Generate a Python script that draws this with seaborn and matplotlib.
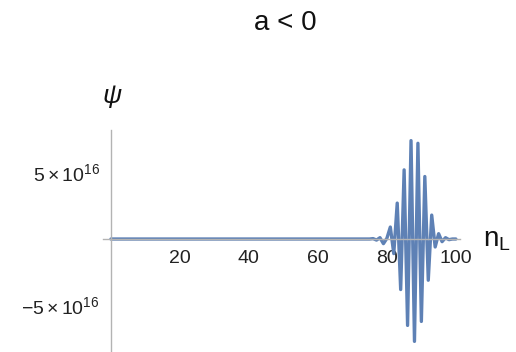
import numpy as np
import pandas as pd
import seaborn as sns
import matplotlib
matplotlib.use("Agg")
import matplotlib.pyplot as plt
from matplotlib.ticker import MultipleLocator, FixedLocator

# site index n_L = 0..100, psi in units of 1e16
n_sites = list(range(0, 101))
psi_e16 = [0.0] * 76 + [
    0.03, -0.08, 0.10, -0.35, 0.05,   # 76-80
    0.90, -1.10, 2.70, -3.80, 5.20,   # 81-85
    -6.50, 7.40, -7.70, 7.20, -6.20,  # 86-90
    4.70, -3.10, 1.80, -0.60, 0.40,   # 91-95
    -0.20, 0.10, -0.05, 0.0, 0.0,     # 96-100
]
title = "a < 0"
y_tick_vals = [-5e16, 5e16]
y_tick_labels = [r"$-5\times10^{16}$", r"$5\times10^{16}$"]
x_tick_vals = [20, 40, 60, 80, 100]

df = pd.DataFrame({"n": n_sites, "psi": np.array(psi_e16) * 1e16})

sns.set_theme(style="white")
plt.rcParams["font.family"] = ["Liberation Sans", "DejaVu Sans"]
plt.rcParams["mathtext.fontset"] = "custom"
plt.rcParams["mathtext.rm"] = "Liberation Sans"
plt.rcParams["mathtext.it"] = "Liberation Sans:italic"

W, H = 516, 352
fig = plt.figure(figsize=(W / 100, H / 100), dpi=100)
fig.patch.set_facecolor("white")

left_px, right_px, top_px, bottom_px = 103, 460, 130, 352
ax = fig.add_axes([left_px / W, 1 - bottom_px / H,
                   (right_px - left_px) / W, (bottom_px - top_px) / H])
ax.set_facecolor("white")

sns.lineplot(data=df, x="n", y="psi", ax=ax, color="#5E81B5", lw=2.4)

ax.set_xlim(-2.3, 101.2)
ax.set_ylim(-8.5e16, 8.2e16)

axis_col = "#b3b3b3"
ax.spines["left"].set_position(("data", 0))
ax.spines["bottom"].set_position(("data", 0))
ax.spines["right"].set_visible(False)
ax.spines["top"].set_visible(False)
for s in ("left", "bottom"):
    ax.spines[s].set_color(axis_col)
    ax.spines[s].set_linewidth(1.0)

ax.xaxis.set_major_locator(FixedLocator(x_tick_vals))
ax.xaxis.set_minor_locator(MultipleLocator(5))
ax.yaxis.set_major_locator(FixedLocator(y_tick_vals))
ax.set_yticklabels(y_tick_labels)
ax.yaxis.set_minor_locator(MultipleLocator(1e16))

ax.tick_params(which="both", direction="in", color=axis_col, width=0.8,
               labelcolor="#222222", labelsize=14)
ax.tick_params(which="major", length=4)
ax.tick_params(which="minor", length=2.2)
ax.tick_params(axis="x", pad=8)
ax.tick_params(axis="y", pad=8)
ax.set_xlabel("")
ax.set_ylabel("")
ax.grid(False)

fig.text(285 / W, 1 - 23 / H, title, ha="center", va="center",
         fontsize=20, color="#111111")
fig.text(112 / W, 1 - 96 / H, "\u03c8", ha="center", va="center",
         fontsize=19, style="italic", color="#111111")
fig.text(483 / W, 1 - 240 / H, r"n$_{\mathrm{L}}$", ha="left", va="center",
         fontsize=20, color="#111111")

fig.savefig("out.png", dpi=100, facecolor="white")
